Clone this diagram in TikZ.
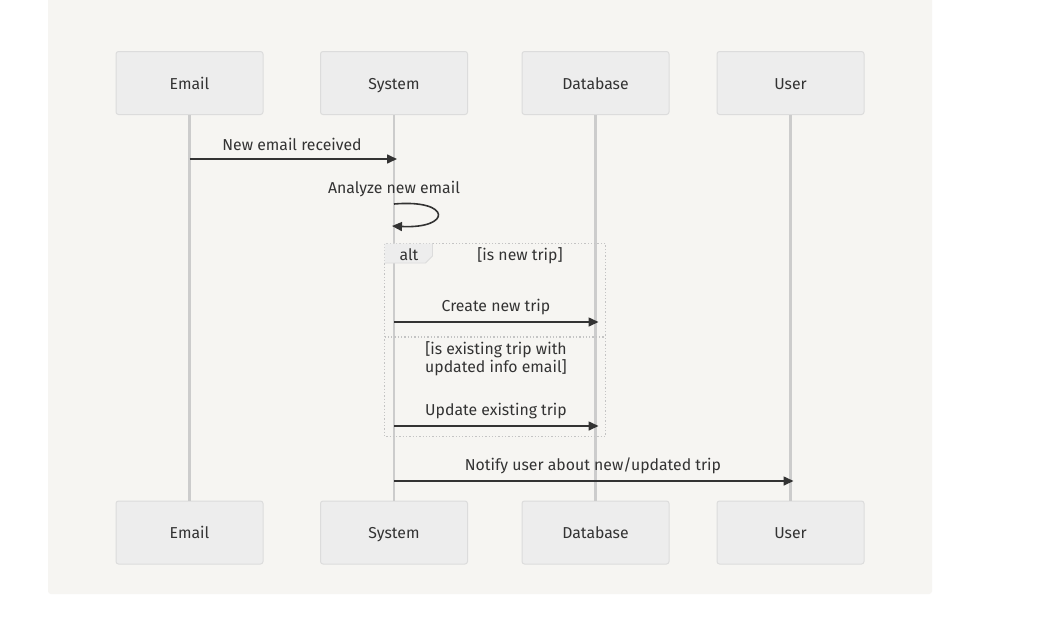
\documentclass[tikz,border=0pt]{standalone}
\usepackage{fontspec}
\setmainfont{Fira Sans}
\usetikzlibrary{arrows.meta,calc}
\definecolor{panel}{HTML}{F6F5F2}
\definecolor{boxfill}{HTML}{EDEDED}
\definecolor{boxline}{HTML}{DCDCDC}
\definecolor{lifeline}{HTML}{CCCCCC}
\definecolor{ink}{HTML}{333333}
\definecolor{frameline}{HTML}{C4C4C4}
\tikzset{
  actor/.style={draw=boxline, line width=1pt, fill=boxfill, rounded corners=2.5pt, minimum width=147pt, minimum height=63pt, inner sep=0pt, text=ink, font=\fontsize{15.8}{18}\selectfont, text height=14pt, text depth=2pt},
  life/.style={draw=lifeline, line width=2.2pt},
  msg/.style={draw=ink, line width=1.6pt, -{Triangle[length=10pt,width=9pt]}},
  lbl/.style={text=ink, font=\fontsize{15.8}{17.5}\selectfont, inner sep=0pt, align=center},
  fr/.style={draw=frameline, line width=1.3pt, dotted},
}
\begin{document}
\begin{tikzpicture}[x=1pt,y=-1pt]
\useasboundingbox (0,0) rectangle (1047,635);
\fill[white] (0,0) rectangle (1047,635);
\fill[panel, rounded corners=3pt] (48,-5) rectangle (932,594);
% top actors
\node[actor] (e1) at (189.5,83) {Email};
\node[actor] (s1) at (394,83) {System};
\node[actor] (d1) at (595.5,83) {Database};
\node[actor] (u1) at (790.5,83) {User};
% bottom actors
\node[actor] (e2) at (189.5,532.5) {Email};
\node[actor] (s2) at (394,532.5) {System};
\node[actor] (d2) at (595.5,532.5) {Database};
\node[actor] (u2) at (790.5,532.5) {User};
% lifelines
\draw[life] (e1.south) -- (e2.north);
\draw[life] (s1.south) -- (s2.north);
\draw[life] (d1.south) -- (d2.north);
\draw[life] (u1.south) -- (u2.north);
% alt frame
\draw[fr] (384.5,243.5) rectangle (605.5,436.5);
\draw[fr] (384.5,337) -- (605.5,337);
\fill[boxfill] (384.5,243.5) -- (432.5,243.5) -- (432.5,256) -- (425.5,263) -- (384.5,263) -- cycle;
\draw[boxline, line width=0.8pt] (432.5,243.5) -- (432.5,256) -- (425.5,263) -- (384.5,263);
\node[lbl] (alt) at (409,255) {alt};
\node[lbl] (c1) at (520,256) {[is new trip]};
\node[lbl] (c2) at (496,358.5) {[is existing trip with\\updated info email]};
% coordinates for messages
\coordinate (m1a) at (189.5,159); \coordinate (m1b) at (397,159);
\coordinate (m2a) at (394,322); \coordinate (m2b) at (598.5,322);
\coordinate (m3a) at (394,426); \coordinate (m3b) at (598.5,426);
\coordinate (m4a) at (394,481); \coordinate (m4b) at (793.5,481);
\coordinate (la) at (394,204); \coordinate (lb) at (392,226);
% messages
\draw[msg] (m1a) -- (m1b);
\node[lbl] (t1) at (292,144) {New email received};
\node[lbl] (t0) at (394,189) {Analyze new email};
\draw[msg] (la) .. controls (452,199) and (452,229) .. (lb);
\draw[msg] (m2a) -- (m2b);
\node[lbl] (t2) at (496,307) {Create new trip};
\draw[msg] (m3a) -- (m3b);
\node[lbl] (t3) at (496,411) {Update existing trip};
\draw[msg] (m4a) -- (m4b);
\node[lbl] (t4) at (593,466) {Notify user about new/updated trip};
\end{tikzpicture}
\end{document}
